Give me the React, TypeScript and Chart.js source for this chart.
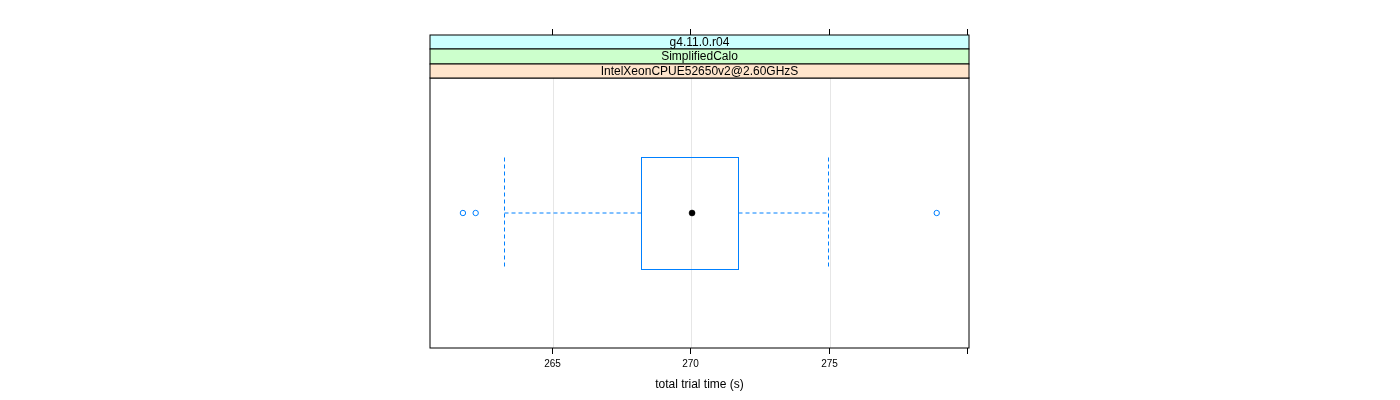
import React, { useEffect, useRef } from "react";
import Chart from "chart.js/auto";

const stripLabels = ["g4.11.0.r04", "SimplifiedCalo", "IntelXeonCPUE52650v2@2.60GHzS"];
const stripColors = ["#ccffff", "#ccffcc", "#ffe5cc"];
// whisker low, Q1, median, Q3, whisker high
const boxStats = [263.26, 268.2, 270.03, 271.7, 274.95];
const outliers = [261.76, 262.22, 278.86];
const tickValues = [265, 270, 275, 280];
const tickLabels = ["265", "270", "275", ""];
const axisTitle = "total trial time (s)";
const xMin = 260.572;
const xMax = 280.025;

const BLUE = "#0080ff";
const FONT = "'Liberation Sans', Arial, Helvetica, sans-serif";

const latticePlugin = {
  id: "lattice",
  beforeDatasetsDraw(chart: any) {
    const { ctx, chartArea, scales } = chart;
    const xs = scales.x;
    const ys = scales.y;
    ctx.save();
    // grid
    ctx.strokeStyle = "#e6e6e6";
    ctx.lineWidth = 1;
    tickValues.forEach((v) => {
      const px = Math.round(xs.getPixelForValue(v)) + 0.5;
      if (px > chartArea.left + 1 && px < chartArea.right - 2) {
        ctx.beginPath();
        ctx.moveTo(px, chartArea.top);
        ctx.lineTo(px, chartArea.bottom);
        ctx.stroke();
      }
    });
    const [wLo, q1, , q3, wHi] = boxStats;
    const yc = ys.getPixelForValue(0.5);
    const yTop = Math.round(ys.getPixelForValue(0.7085)) + 0.5;
    const yBot = Math.round(ys.getPixelForValue(0.2915)) + 0.5;
    const x1 = Math.round(xs.getPixelForValue(q1)) + 0.5;
    const x3 = Math.round(xs.getPixelForValue(q3)) + 0.5;
    const xl = Math.round(xs.getPixelForValue(wLo)) + 0.5;
    const xh = Math.round(xs.getPixelForValue(wHi)) + 0.5;
    ctx.strokeStyle = BLUE;
    ctx.lineWidth = 1;
    // box
    ctx.strokeRect(x1, yTop, x3 - x1, yBot - yTop);
    // whiskers
    ctx.setLineDash([4, 3]);
    ctx.beginPath();
    ctx.moveTo(xl, yc);
    ctx.lineTo(x1, yc);
    ctx.moveTo(x3, yc);
    ctx.lineTo(xh, yc);
    ctx.moveTo(xl, yTop);
    ctx.lineTo(xl, yBot);
    ctx.moveTo(xh, yTop);
    ctx.lineTo(xh, yBot);
    ctx.stroke();
    ctx.setLineDash([]);
    ctx.restore();
  },
  afterDraw(chart: any) {
    const { ctx, chartArea, scales } = chart;
    const xs = scales.x;
    const { left, right, top, bottom } = chartArea;
    ctx.save();
    // panel border
    ctx.strokeStyle = "#000";
    ctx.lineWidth = 1;
    ctx.strokeRect(left, top, right - left, bottom - top);
    // strips
    const stripH = 14.5;
    const n = stripLabels.length;
    const stripTop = top - n * stripH;
    ctx.font = `12px ${FONT}`;
    ctx.textAlign = "center";
    ctx.textBaseline = "middle";
    for (let i = 0; i < n; i++) {
      const y0 = Math.round(stripTop + i * stripH);
      const y1 = Math.round(stripTop + (i + 1) * stripH);
      ctx.fillStyle = stripColors[i];
      ctx.fillRect(left, y0, right - left, y1 - y0);
      ctx.strokeStyle = "#000";
      ctx.strokeRect(left, y0, right - left, y1 - y0);
      ctx.fillStyle = "#000";
      ctx.fillText(stripLabels[i], (left + right) / 2, (y0 + y1) / 2 + 0.5);
    }
    // ticks
    ctx.strokeStyle = "#000";
    ctx.fillStyle = "#000";
    ctx.font = `10px ${FONT}`;
    ctx.textBaseline = "middle";
    const stripTopPx = Math.round(stripTop);
    tickValues.forEach((v, i) => {
      const px = Math.round(xs.getPixelForValue(v)) - 0.5;
      ctx.beginPath();
      ctx.moveTo(px, stripTopPx);
      ctx.lineTo(px, stripTopPx - 6);
      ctx.moveTo(px, bottom);
      ctx.lineTo(px, bottom + 6);
      ctx.stroke();
      if (tickLabels[i]) ctx.fillText(tickLabels[i], px, bottom + 16);
    });
    ctx.font = `12px ${FONT}`;
    ctx.fillText(axisTitle, (left + right) / 2, bottom + 37);
    ctx.restore();
  },
};

export default function App() {
  const ref = useRef<HTMLCanvasElement | null>(null);
  useEffect(() => {
    document.body.style.margin = "0";
    if (!ref.current) return;
    const chart = new Chart(ref.current, {
      type: "scatter",
      data: {
        datasets: [
          {
            label: "outliers",
            data: outliers.map((v) => ({ x: v, y: 0.5 })),
            pointRadius: 2.7,
            pointBorderWidth: 1,
            borderColor: BLUE,
            backgroundColor: "rgba(0,0,0,0)",
            pointBackgroundColor: "rgba(0,0,0,0)",
            pointBorderColor: BLUE,
          },
          {
            label: "median",
            data: [{ x: boxStats[2], y: 0.5 }],
            pointRadius: 3,
            pointBorderWidth: 0.5,
            pointBackgroundColor: "#000",
            pointBorderColor: "#000",
          },
        ],
      },
      options: {
        animation: false,
        responsive: false,
        devicePixelRatio: 1,
        layout: { padding: { left: 430, right: 431, top: 78, bottom: 52 } },
        plugins: { legend: { display: false }, tooltip: { enabled: false } },
        scales: {
          x: { type: "linear", min: xMin, max: xMax, display: false },
          y: { type: "linear", min: 0, max: 1, display: false },
        },
      },
      plugins: [latticePlugin],
    });
    return () => chart.destroy();
  }, []);
  return <canvas ref={ref} width={1400} height={400} />;
}
